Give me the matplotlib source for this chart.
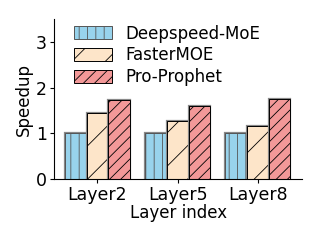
import numpy as np
import matplotlib
matplotlib.use("Agg")
import matplotlib.pyplot as plt

layers = ["Layer2", "Layer5", "Layer8"]
methods = ["Deepspeed-MoE", "FasterMOE", "Pro-Prophet"]
deepspeed = [1.0, 1.0, 1.0]
fastermoe = [1.45, 1.27, 1.17]
prophet = [1.72, 1.60, 1.76]

colors = ["#98d3ec", "#fde5c9", "#f29898"]
hatches = ["||", "/", "///"]
edges = ["#555555", "black", "black"]

plt.rcParams["font.size"] = 12
plt.rcParams["hatch.linewidth"] = 0.6

fig = plt.figure(figsize=(3.2, 2.4), dpi=100)
ax = fig.add_axes([0.169, 0.254, 0.775, 0.666])

x = np.arange(len(layers))
w = 0.27
for i, (vals, name) in enumerate(zip([deepspeed, fastermoe, prophet], methods)):
    # gray outline underneath, then the hatched bar with a thin edge on top
    ax.bar(x + (i - 1) * w, vals, w, color="none", edgecolor="#888888",
           linewidth=1.6)
    ax.bar(x + (i - 1) * w, vals, w, color=colors[i], hatch=hatches[i],
           edgecolor=edges[i], linewidth=0.7, label=name)

ax.set_xlim(-0.54, 2.55)
ax.set_ylim(0, 3.5)
ax.set_yticks([0, 1, 2, 3])
ax.set_xticks(x)
ax.set_xticklabels(layers)
ax.set_xlabel("Layer index", labelpad=0)
ax.set_ylabel("Speedup", labelpad=2)
ax.spines["top"].set_visible(False)
ax.spines["right"].set_visible(False)
ax.tick_params(length=3, pad=2, labelsize=12.5)

ax.legend(loc="upper left", bbox_to_anchor=(0.02, 1.06), frameon=False,
          handlelength=2.3, handleheight=0.8, labelspacing=0.22,
          handletextpad=0.8)

fig.savefig("out.png", dpi=100)
